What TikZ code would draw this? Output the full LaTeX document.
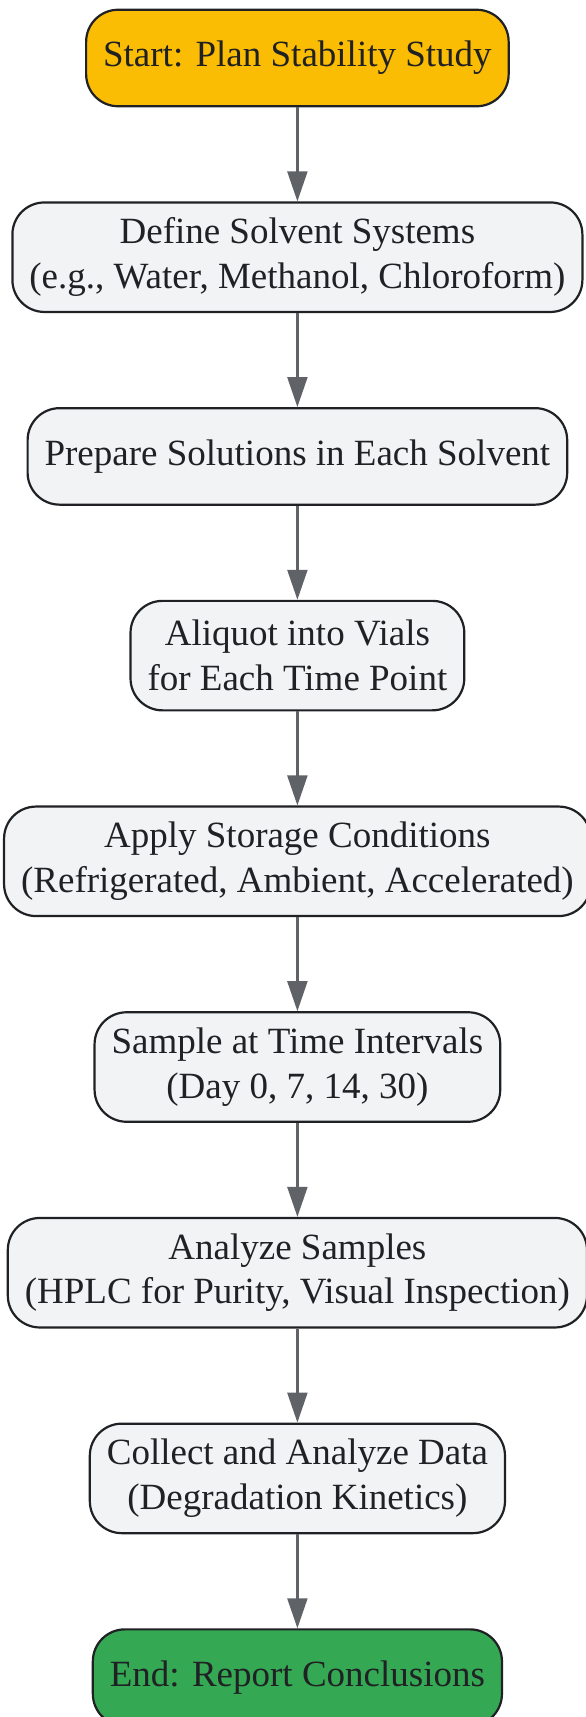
\documentclass[tikz,border=0pt]{standalone}
\usepackage{fontspec}
\setmainfont{Liberation Serif}
\usetikzlibrary{positioning,arrows.meta}
\definecolor{startc}{HTML}{FBBC04}
\definecolor{endc}{HTML}{34A853}
\definecolor{stepc}{HTML}{F1F3F4}
\definecolor{edgec}{HTML}{5F6368}
\definecolor{inkc}{HTML}{202124}

\begin{document}
\begin{tikzpicture}[->,>={Triangle[width=20pt,length=30pt]},node distance=94pt,
    base node/.style={rectangle,rounded corners=32pt,draw=inkc,line width=2.2pt,fill=stepc,text=inkc,font=\fontsize{37}{44.6}\selectfont,align=center,minimum height=96.5pt,inner xsep=17pt,inner ysep=10pt},
    two node/.style={base node,minimum height=109.5pt},
    start node/.style={base node,fill=startc}, end node/.style={base node,fill=endc}]

\useasboundingbox (0,0) rectangle (586pt,-1717pt);

\node[start node] (0) at (297.4pt,-58pt) {Start: Plan Stability Study};
\node[two node]   (1) [below=of 0] {Define Solvent Systems\\(e.g., Water, Methanol, Chloroform)};
\node[base node]  (2) [below=of 1] {Prepare Solutions in Each Solvent};
\node[two node]   (3) [below=of 2] {Aliquot into Vials\\for Each Time Point};
\node[two node]   (4) [below=of 3] {Apply Storage Conditions\\(Refrigerated, Ambient, Accelerated)};
\node[two node]   (5) [below=of 4] {Sample at Time Intervals\\(Day 0, 7, 14, 30)};
\node[two node]   (6) [below=of 5] {Analyze Samples\\(HPLC for Purity, Visual Inspection)};
\node[two node]   (7) [below=of 6] {Collect and Analyze Data\\(Degradation Kinetics)};
\node[end node]   (8) [below=of 7] {End: Report Conclusions};

\foreach \i [count=\j] in {0,...,7}
    \draw[edgec,line width=2.2pt] (\i) -- (\j);

\end{tikzpicture}
\end{document}
